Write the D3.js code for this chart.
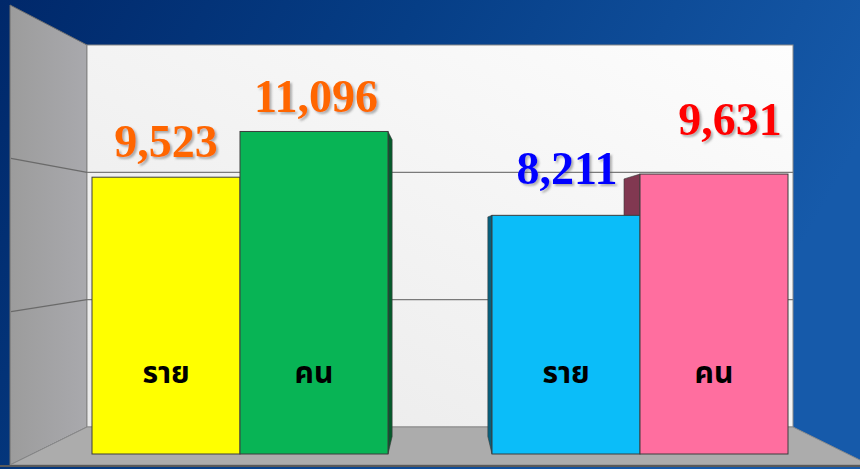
<!DOCTYPE html>
<html>
<head>
<meta charset="utf-8">
<script src="https://cdn.jsdelivr.net/npm/d3@7"></script>
<style>
  body { margin: 0; padding: 0; overflow: hidden; }
</style>
</head>
<body>
<div id="graph"></div>
<script>
// data
var groups = ['ชุดที่ 1', 'ชุดที่ 2'];
var units = ['ราย', 'คน'];
var group1Values = [9523, 11096];
var group2Values = [8211, 9631];
var yTicks = [5000, 10000];

// styles
var barColors = [['#ffff00', '#08b455'], ['#0bbdf9', '#ff6e9f']];
var labelColors = [['#ff6600', '#ff6600'], ['#0000ff', '#ff0000']];
var labelLift = [[20, 19], [31, 39]];
var labelShift = [[0, 2], [1, 16]];

var width = 860,
    height = 469;

var vp = { x: 440, y: 235 },
    depth = 0.92;

function proj(x, y) {
    return [vp.x + (x - vp.x) * depth, vp.y + (y - vp.y) * depth];
}

var svg = d3.select('#graph')
    .append('svg')
        .attr('width', width)
        .attr('height', height);

var defs = svg.append('defs');

var bg = defs.append('linearGradient')
    .attr('id', 'bg')
    .attr('x1', 0).attr('y1', 0).attr('x2', 1).attr('y2', 0.3);
bg.append('stop').attr('offset', '0%').attr('stop-color', '#00286a');
bg.append('stop').attr('offset', '45%').attr('stop-color', '#063e86');
bg.append('stop').attr('offset', '100%').attr('stop-color', '#165aaa');

var wallGrad = defs.append('linearGradient')
    .attr('id', 'backwall')
    .attr('x1', 0).attr('y1', 1).attr('x2', 1).attr('y2', 0);
wallGrad.append('stop').attr('offset', '0%').attr('stop-color', '#e9e9e9');
wallGrad.append('stop').attr('offset', '100%').attr('stop-color', '#fdfdfd');

var sideGrad = defs.append('linearGradient')
    .attr('id', 'leftwall')
    .attr('x1', 0).attr('y1', 0).attr('x2', 1).attr('y2', 0);
sideGrad.append('stop').attr('offset', '0%').attr('stop-color', '#9c9c9c');
sideGrad.append('stop').attr('offset', '100%').attr('stop-color', '#a9a9ad');

var shadow = defs.append('filter')
    .attr('id', 'shadow')
    .attr('x', '-20%').attr('y', '-20%').attr('width', '140%').attr('height', '140%');
shadow.append('feDropShadow')
    .attr('dx', 2).attr('dy', 2).attr('stdDeviation', 1.2)
    .attr('flood-color', '#555').attr('flood-opacity', 0.45);

svg.append('rect')
    .attr('width', width)
    .attr('height', height)
    .style('fill', 'url(#bg)');

// walls
var wallTop = 45, wallBottom = 427, wallLeft = 87, wallRight = 793;
var frontTop = 5, frontBottom = 465, frontLeft = 10;

svg.append('polygon')
    .attr('points', [[frontLeft, frontTop], [wallLeft, wallTop], [wallLeft, wallBottom], [frontLeft, frontBottom]].join(' '))
    .style('fill', 'url(#leftwall)')
    .style('stroke', '#6e6e6e')
    .style('stroke-width', 1);

svg.append('rect')
    .attr('x', wallLeft)
    .attr('y', wallTop)
    .attr('width', wallRight - wallLeft)
    .attr('height', wallBottom - wallTop)
    .style('fill', 'url(#backwall)')
    .style('stroke', '#8a8a8a')
    .style('stroke-width', 1);

svg.append('polygon')
    .attr('points', [[wallLeft, wallBottom], [wallRight, wallBottom], [wallRight + 77, frontBottom], [frontLeft, frontBottom]].join(' '))
    .style('fill', '#acacac')
    .style('stroke', '#8a8a8a')
    .style('stroke-width', 1);

svg.append('line')
    .attr('x1', 0).attr('x2', width)
    .attr('y1', frontBottom + 1).attr('y2', frontBottom + 1)
    .style('stroke', '#5a5a5a')
    .style('stroke-width', 2);

// scales
var yBack = d3.scaleLinear().domain([0, 15000]).range([wallBottom, wallTop]);
var yWall = d3.scaleLinear().domain([0, 15000]).range([frontBottom, frontTop]);
var yFront = d3.scaleLinear().domain([0, 15000]).range([454, 18]);

var x = d3.scaleBand()
    .domain(groups)
    .range([wallLeft, wallRight])
    .paddingInner(0.26)
    .paddingOuter(0.0125);

var xSub = d3.scaleBand()
    .domain(units)
    .range([0, x.bandwidth()]);

// gridlines
svg.append('g')
    .selectAll('line')
    .data(yTicks)
    .enter().append('line')
    .attr('x1', wallLeft).attr('x2', wallRight)
    .attr('y1', function(d) { return yBack(d); })
    .attr('y2', function(d) { return yBack(d); })
    .style('stroke', '#7a7a7a')
    .style('stroke-width', 1.2);

svg.append('g')
    .selectAll('line')
    .data(yTicks)
    .enter().append('line')
    .attr('x1', frontLeft + 1).attr('x2', wallLeft)
    .attr('y1', function(d) { return yWall(d); })
    .attr('y2', function(d) { return yBack(d); })
    .style('stroke', '#6a6a6a')
    .style('stroke-width', 1.2);

// bars
var bars = [];
[group1Values, group2Values].forEach(function(vals, gi) {
    vals.forEach(function(v, i) {
        bars.push({
            group: groups[gi], gi: gi, unit: units[i], i: i, value: v,
            color: barColors[gi][i], labelColor: labelColors[gi][i]
        });
    });
});

function barX(d) { return x(d.group) + xSub(d.unit); }

// side faces
svg.append('g')
    .selectAll('polygon')
    .data(bars)
    .enter().append('polygon')
    .attr('points', function(d) {
        var x0 = barX(d), x1 = x0 + xSub.bandwidth();
        var ex = (x0 + x1) / 2 < vp.x ? x1 : x0;
        var top = yFront(d.value), bottom = yFront(0);
        return [[ex, top], proj(ex, top), proj(ex, bottom), [ex, bottom]].join(' ');
    })
    .style('fill', function(d) { return d3.color(d.color).darker(1.9); })
    .style('stroke', '#3a3a3a')
    .style('stroke-width', 0.6);

// front faces
svg.append('g')
    .selectAll('rect')
    .data(bars)
    .enter().append('rect')
    .attr('x', barX)
    .attr('y', function(d) { return yFront(d.value); })
    .attr('width', xSub.bandwidth())
    .attr('height', function(d) { return yFront(0) - yFront(d.value); })
    .style('fill', function(d) { return d.color; })
    .style('stroke', '#3c3c3c')
    .style('stroke-width', 1);

// unit labels inside bars
svg.append('g')
    .selectAll('text')
    .data(bars)
    .enter().append('text')
    .attr('x', function(d) { return barX(d) + xSub.bandwidth() / 2; })
    .attr('y', 383)
    .attr('text-anchor', 'middle')
    .style('font-family', 'Tahoma, "Noto Sans Thai", "Noto Sans", "DejaVu Sans", sans-serif')
    .style('font-weight', 'bold')
    .style('font-size', '30px')
    .style('fill', '#000')
    .text(function(d) { return d.unit; });

// value labels
svg.append('g')
    .selectAll('text')
    .data(bars)
    .enter().append('text')
    .attr('x', function(d) { return barX(d) + xSub.bandwidth() / 2 + labelShift[d.gi][d.i]; })
    .attr('y', function(d) { return yFront(d.value) - labelLift[d.gi][d.i]; })
    .attr('text-anchor', 'middle')
    .attr('filter', 'url(#shadow)')
    .style('font-family', '"Liberation Serif", "Times New Roman", serif')
    .style('font-weight', 'bold')
    .style('font-size', '46px')
    .style('fill', function(d) { return d.labelColor; })
    .text(function(d) { return d3.format(',')(d.value); });
</script>
</body>
</html>
